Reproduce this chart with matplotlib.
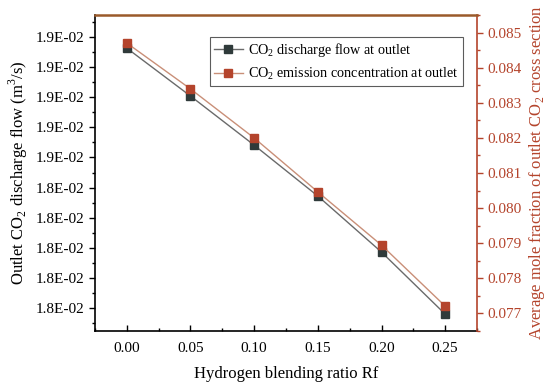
import matplotlib
matplotlib.use("Agg")
import matplotlib.pyplot as plt
from matplotlib.ticker import FixedLocator, FixedFormatter, AutoMinorLocator

plt.rcParams['font.family'] = ['Liberation Serif', 'DejaVu Serif']
plt.rcParams['mathtext.fontset'] = 'custom'
plt.rcParams['mathtext.rm'] = 'Liberation Serif'

# Data
rf = [0.00, 0.05, 0.10, 0.15, 0.20, 0.25]
flow = [0.018863, 0.018704, 0.018541, 0.018372, 0.018186, 0.017980]
conc = [0.08471, 0.08340, 0.08200, 0.08046, 0.07894, 0.07720]

left_ticks = [0.0189, 0.0188, 0.0187, 0.0186, 0.0185, 0.0184, 0.0183, 0.0182, 0.0181, 0.0180]
left_labels = ["1.9E-02"] * 5 + ["1.8E-02"] * 5
right_ticks = [0.077, 0.078, 0.079, 0.080, 0.081, 0.082, 0.083, 0.084, 0.085]
x_ticks = [0.00, 0.05, 0.10, 0.15, 0.20, 0.25]

red = '#b4442c'
dark = '#2f3a3a'

fig = plt.figure(figsize=(5.5, 3.87), dpi=100)
ax = fig.add_axes([0.1727, 0.1447, 0.6946, 0.8165])
ax2 = ax.twinx()

l1, = ax.plot(rf, flow, color='#6a6a6a', lw=1.0, marker='s', ms=6,
              mfc=dark, mec=dark, label='CO$_2$ discharge flow at outlet')
l2, = ax2.plot(rf, conc, color='#c98f78', lw=1.0, marker='s', ms=6,
               mfc=red, mec=red, label='CO$_2$ emission concentration at outlet')

ax.set_xlim(-0.025, 0.275)
ax.set_ylim(0.017924, 0.018973)
ax2.set_ylim(0.07649, 0.08551)

ax.set_xticks(x_ticks)
ax.set_xticklabels([f"{v:.2f}" for v in x_ticks])
ax.xaxis.set_minor_locator(AutoMinorLocator(2))
ax.yaxis.set_major_locator(FixedLocator(left_ticks))
ax.yaxis.set_major_formatter(FixedFormatter(left_labels))
ax.yaxis.set_minor_locator(AutoMinorLocator(2))
ax2.set_yticks(right_ticks)
ax2.set_yticklabels([f"{v:.3f}" for v in right_ticks])
ax2.yaxis.set_minor_locator(AutoMinorLocator(2))

ax.tick_params(axis='x', which='major', direction='in', length=4, width=1, labelsize=11, pad=8)
ax.tick_params(axis='x', which='minor', direction='in', length=2.5, width=1)
ax.tick_params(axis='y', which='major', direction='out', length=4, width=1, labelsize=11)
ax.tick_params(axis='y', which='minor', direction='out', length=2.5, width=1)
ax2.tick_params(axis='y', which='major', direction='out', length=4, width=1,
                labelsize=11, colors=red, labelcolor=red)
ax2.tick_params(axis='y', which='minor', direction='out', length=2.5, width=1, colors=red)

for s in ['left', 'bottom']:
    ax.spines[s].set_linewidth(1.2)
ax.spines['top'].set_visible(False)
ax.spines['right'].set_visible(False)
ax2.spines['left'].set_visible(False)
ax2.spines['bottom'].set_visible(False)
ax2.spines['right'].set_color(red)
ax2.spines['right'].set_linewidth(1.2)
ax2.spines['top'].set_color('#9a5a2a')
ax2.spines['top'].set_linewidth(1.8)

ax.set_xlabel('Hydrogen blending ratio Rf', fontsize=12, labelpad=8)
ax.set_ylabel('Outlet CO$_2$ discharge flow (m$^3$/s)', fontsize=12, labelpad=4)
ax2.set_ylabel('Average mole fraction of outlet CO$_2$ cross section', fontsize=12,
               color=red, labelpad=4)

leg = ax.legend(handles=[l1, l2], loc='upper left', bbox_to_anchor=(0.301, 0.93),
                fontsize=10.2, frameon=True, fancybox=False, edgecolor='#333333',
                handlelength=2.0, borderpad=0.3, labelspacing=0.45, handletextpad=0.4,
                borderaxespad=0)
leg.get_frame().set_linewidth(0.8)

fig.savefig('out.png', dpi=100)
